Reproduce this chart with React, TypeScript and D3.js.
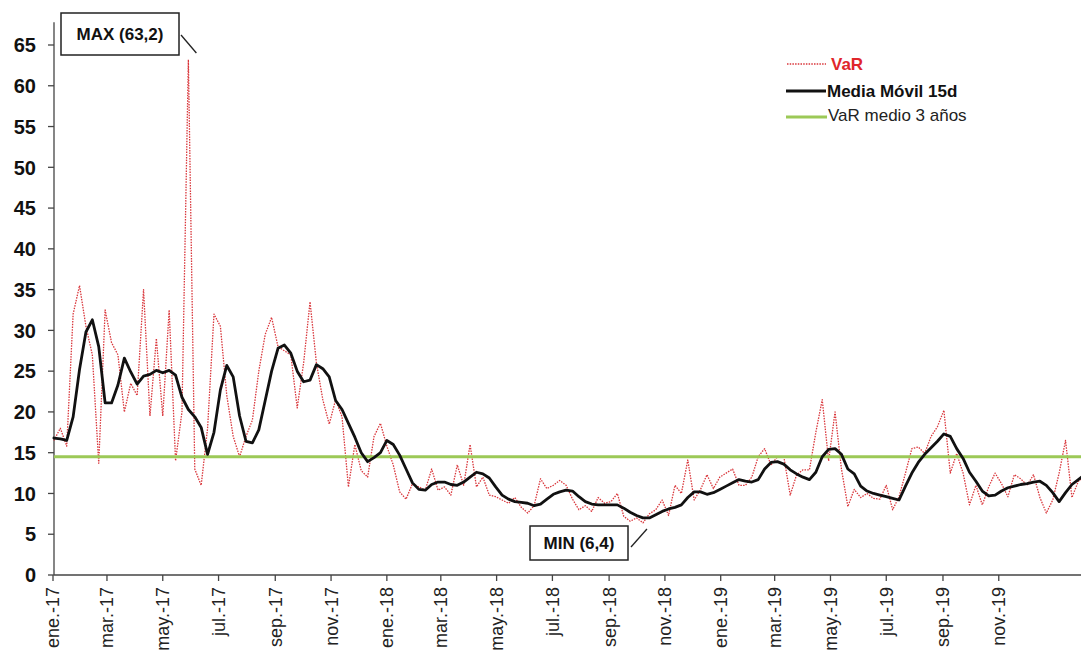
import React from "react";
import * as d3 from "d3";

// Weekly observations, first week starting on this date
const weekStart = "2017-01-02";

// VaR (daily series)
const varValues = [
  16.5, 18.0, 15.8, 32.0, 35.5, 30.5, 27.0, 13.7, 32.5, 28.5,
  27.0, 20.0, 23.5, 22.0, 35.0, 19.5, 29.0, 19.5, 32.5, 14.0,
  20.0, 63.2, 13.0, 11.0, 18.0, 32.0, 30.5, 22.0, 17.0, 14.5,
  17.0, 19.0, 25.0, 29.5, 31.6, 28.0, 27.5, 27.0, 20.5, 26.0,
  33.5, 26.0, 21.5, 18.5, 21.5, 19.4, 10.8, 16.0, 12.8, 12.0,
  17.0, 18.6, 15.8, 13.5, 10.2, 9.3, 11.2, 10.8, 10.4, 13.0,
  10.4, 10.8, 9.8, 13.5, 11.0, 16.0, 10.8, 12.0, 9.8, 9.6,
  9.2, 8.8, 9.5, 8.3, 7.6, 8.5, 11.8, 10.6, 11.0, 11.6,
  11.0, 9.3, 8.0, 8.5, 7.8, 9.5, 8.8, 9.0, 10.0, 7.2,
  6.6, 7.0, 6.4, 7.5, 8.0, 9.2, 7.3, 11.0, 10.0, 14.1,
  9.2, 10.5, 12.3, 10.6, 12.0, 12.5, 13.0, 11.0, 11.0, 12.0,
  14.5, 15.5, 13.5, 14.5, 14.5, 9.8, 12.3, 12.9, 12.9, 17.5,
  21.5, 14.0, 20.0, 13.0, 8.4, 10.5, 9.5, 10.0, 9.4, 9.3,
  11.0, 8.0, 9.6, 12.5, 15.5, 15.7, 14.9, 17.0, 18.2, 20.2,
  12.5, 14.9, 12.5, 8.6, 11.0, 8.6, 10.8, 12.5, 11.2, 9.6,
  12.3, 11.8, 11.0, 12.3, 9.5, 7.6, 9.2, 12.5, 16.5, 9.5,
  11.5, 12.1,
];

// Media Móvil 15d
const maValues = [
  16.8, 16.7, 16.5, 19.4, 25.2, 29.8, 31.3, 28.0, 21.1, 21.1,
  23.3, 26.6, 24.9, 23.4, 24.4, 24.6, 25.1, 24.8, 25.1, 24.5,
  21.8, 20.3, 19.4, 18.1, 14.8, 17.5, 22.7, 25.7, 24.3, 19.5,
  16.4, 16.2, 17.8, 21.4, 25.0, 27.8, 28.2, 27.2, 25.0, 23.7,
  23.9, 25.8, 25.3, 24.3, 21.4, 20.3, 18.6, 16.9, 15.0, 13.9,
  14.4, 15.0, 16.5, 16.0, 14.7, 13.0, 11.3, 10.5, 10.4, 11.1,
  11.4, 11.4, 11.1, 11.0, 11.4, 12.0, 12.6, 12.4, 11.9, 10.8,
  9.8, 9.3, 9.0, 8.9, 8.8, 8.5, 8.7, 9.3, 9.9, 10.2,
  10.4, 10.3, 9.6, 9.0, 8.7, 8.6, 8.6, 8.6, 8.6, 8.2,
  7.7, 7.3, 7.0, 7.0, 7.4, 7.8, 8.1, 8.3, 8.6, 9.5,
  10.2, 10.2, 9.9, 10.1, 10.5, 10.9, 11.3, 11.7, 11.5, 11.4,
  11.7, 13.0, 13.8, 13.9, 13.6, 12.9, 12.4, 12.0, 11.7, 12.6,
  14.5, 15.4, 15.5, 14.8, 13.0, 12.4, 10.9, 10.3, 10.0, 9.8,
  9.6, 9.4, 9.2, 10.9, 12.5, 13.8, 14.8, 15.6, 16.4, 17.3,
  17.0, 15.5, 14.3, 12.6, 11.5, 10.3, 9.7, 9.8, 10.3, 10.7,
  10.9, 11.1, 11.2, 11.4, 11.5, 11.0, 10.1, 9.0, 10.1, 11.1,
  11.7, 12.3,
];

// VaR medio 3 años
const varMean3y = 14.5;

const tickDates = [
  "2017-01-01", "2017-03-01", "2017-05-01", "2017-07-01", "2017-09-01", "2017-11-01",
  "2018-01-01", "2018-03-01", "2018-05-01", "2018-07-01", "2018-09-01", "2018-11-01",
  "2019-01-01", "2019-03-01", "2019-05-01", "2019-07-01", "2019-09-01", "2019-11-01",
];
const tickLabels = [
  "ene.-17", "mar.-17", "may.-17", "jul.-17", "sep.-17", "nov.-17",
  "ene.-18", "mar.-18", "may.-18", "jul.-18", "sep.-18", "nov.-18",
  "ene.-19", "mar.-19", "may.-19", "jul.-19", "sep.-19", "nov.-19",
];
const yTicks = [0, 5, 10, 15, 20, 25, 30, 35, 40, 45, 50, 55, 60, 65];

const legendLabels = ["VaR", "Media Móvil 15d", "VaR medio 3 años"];
const maxLabel = "MAX (63,2)";
const minLabel = "MIN (6,4)";

const W = 1081;
const H = 653;
const FONT = "'Liberation Sans', Arial, Helvetica, sans-serif";

export default function App() {
  const parse = d3.timeParse("%Y-%m-%d");
  const start = parse(weekStart) as Date;
  const dateAt = (i: number) => d3.timeDay.offset(start, 7 * i);

  const x = d3
    .scaleTime()
    .domain([parse("2017-01-01") as Date, parse("2020-01-31") as Date])
    .range([53, 1082]);
  const y = d3.scaleLinear().domain([0, 65]).range([575, 45]);

  const line = d3
    .line<number>()
    .x((_, i) => x(dateAt(i)))
    .y((d) => y(d));

  const varPath = line(varValues) || "";
  const maPath = line(maValues) || "";

  const axisX = 54;
  const axisY = y(0);

  const maxIdx = d3.maxIndex(varValues);
  const minIdx = d3.minIndex(varValues);
  const maxX = x(dateAt(maxIdx));
  const minX = x(dateAt(minIdx));

  return (
    <svg
      width={W}
      height={H}
      style={{ position: "absolute", left: 0, top: 0, background: "#fff" }}
      fontFamily={FONT}
    >
      <rect x={0} y={0} width={W} height={H} fill="#fff" />

      {/* Y axis */}
      <line x1={axisX} x2={axisX} y1={y(67.8)} y2={axisY} stroke="#444" strokeWidth={1.3} />
      {yTicks.map((t) => (
        <g key={t}>
          <line x1={axisX - 6} x2={axisX} y1={y(t)} y2={y(t)} stroke="#444" strokeWidth={1.3} />
          <text
            x={36}
            y={y(t)}
            dy="0.36em"
            textAnchor="end"
            fontSize={20}
            fontWeight="bold"
            fill="#111"
          >
            {t}
          </text>
        </g>
      ))}

      {/* X axis */}
      <line x1={axisX} x2={W} y1={axisY} y2={axisY} stroke="#444" strokeWidth={1.3} />
      {tickDates.map((d, i) => {
        const tx = x(parse(d) as Date);
        return (
          <g key={d}>
            <line x1={tx} x2={tx} y1={axisY} y2={axisY + 6} stroke="#444" strokeWidth={1.3} />
            <text
              transform={`translate(${tx},${axisY + 12}) rotate(-90)`}
              dy="0.36em"
              textAnchor="end"
              fontSize={18}
              fill="#222"
            >
              {tickLabels[i]}
            </text>
          </g>
        );
      })}

      {/* VaR series */}
      <path
        d={varPath}
        fill="none"
        stroke="#d9363b"
        strokeWidth={1.3}
        strokeDasharray="1.5 1.2"
        strokeLinejoin="round"
      />

      {/* 3-year mean */}
      <line
        x1={axisX}
        x2={W}
        y1={y(varMean3y)}
        y2={y(varMean3y)}
        stroke="#9cc957"
        strokeWidth={3}
      />

      {/* Moving average */}
      <path
        d={maPath}
        fill="none"
        stroke="#111"
        strokeWidth={2.8}
        strokeLinejoin="round"
        strokeLinecap="round"
      />

      {/* Legend */}
      <g>
        <line x1={787} x2={826} y1={64} y2={64} stroke="#d9363b" strokeWidth={1.3} strokeDasharray="1.5 1.2" />
        <text x={831} y={64} dy="0.36em" fontSize={17} fontWeight="bold" fill="#e0262b">
          {legendLabels[0]}
        </text>
        <line x1={786} x2={826} y1={91} y2={91} stroke="#111" strokeWidth={2.8} />
        <text x={827} y={91} dy="0.36em" fontSize={17} fontWeight="bold" fill="#111">
          {legendLabels[1]}
        </text>
        <line x1={786} x2={827} y1={117} y2={117} stroke="#9cc957" strokeWidth={3} />
        <text x={828} y={115} dy="0.36em" fontSize={17} fill="#222">
          {legendLabels[2]}
        </text>
      </g>

      {/* MAX annotation */}
      <g>
        <rect x={61} y={13} width={118} height={42} fill="#fff" stroke="#222" strokeWidth={1.5} />
        <text x={120} y={34} dy="0.36em" textAnchor="middle" fontSize={17} fontWeight="bold" fill="#111">
          {maxLabel}
        </text>
        <line x1={181} y1={35} x2={maxX + 8} y2={53} stroke="#222" strokeWidth={1.3} />
      </g>

      {/* MIN annotation */}
      <g>
        <rect x={530} y={526} width={98} height={34} fill="#fff" stroke="#222" strokeWidth={1.5} />
        <text x={579} y={543} dy="0.36em" textAnchor="middle" fontSize={17} fontWeight="bold" fill="#111">
          {minLabel}
        </text>
        <line x1={631} y1={547} x2={minX + 4} y2={529} stroke="#222" strokeWidth={1.3} />
      </g>
    </svg>
  );
}
